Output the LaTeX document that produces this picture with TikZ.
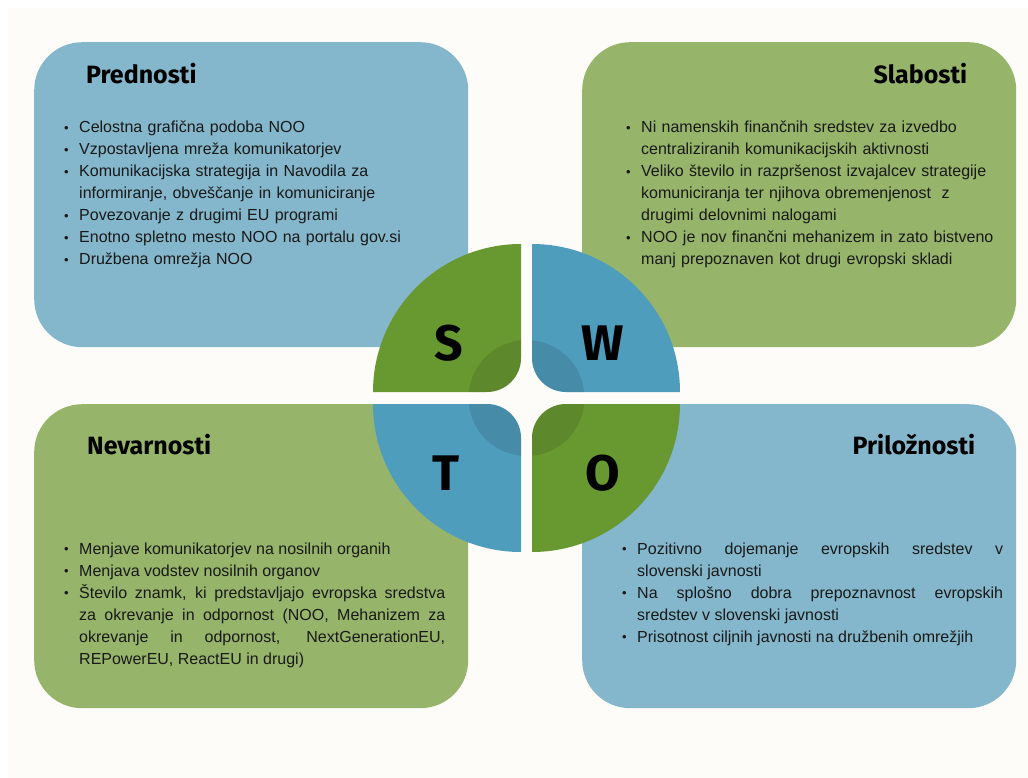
\documentclass[tikz,border=0pt]{standalone}
\usepackage{fontspec}
\setmainfont{Liberation Sans}
\newfontfamily\headfont{Fira Sans}
\usetikzlibrary{positioning}
\usepackage{xcolor}

\hyphenpenalty=10000
\exhyphenpenalty=10000

\definecolor{boxblue}{HTML}{84B7CB}
\definecolor{boxgreen}{HTML}{96B46A}
\definecolor{quadblue}{HTML}{4E9DBD}
\definecolor{quadgreen}{HTML}{689830}
\definecolor{paper}{HTML}{FDFCF8}

\tikzstyle{panel} = [rectangle, rounded corners=48pt, minimum width=434pt, minimum height=305pt, inner sep=0pt, anchor=north west]
\tikzstyle{heading} = [inner sep=0pt, font=\headfont\bfseries\fontsize{25}{30}\selectfont]
\tikzstyle{letter} = [inner sep=0pt, anchor=base, font=\headfont\bfseries\fontsize{50}{60}\selectfont]
\tikzstyle{items} = [inner sep=0pt, anchor=base west, text width=382pt, text=black!90, font=\fontsize{16}{22}\selectfont]

\newcommand{\itm}{\par\noindent\hangindent=16pt\hangafter=1\makebox[16pt][l]{\hspace{1pt}\raisebox{0.5pt}{\fontsize{13}{13}\selectfont\textbullet}}}
\newcommand{\leaf}{(-153.5,-6) -- (-39.5,-6) arc (90:0:34) -- (-5.5,-154) arc (270:180:148) -- cycle}

\begin{document}
\begin{tikzpicture}[x=1pt, y=-1pt]

\useasboundingbox (0,0) rectangle (1028,778);
\fill[white] (0,0) rectangle (1028,778);
\fill[paper] (8,8) rectangle (1028,778);

% Panels
\node (prednosti) [panel, fill=boxblue] at (34,42) {};
\node (slabosti) [panel, fill=boxgreen] at (582,42) {};
\node (nevarnosti) [panel, fill=boxgreen, minimum height=304pt] at (34,404) {};
\node (priloznosti) [panel, fill=boxblue, minimum height=304pt] at (582,404) {};

% Headings
\node (prednostiHead) [heading, anchor=base west] at ([xshift=52pt, yshift=-42pt]prednosti.north west) {Prednosti};
\node (slabostiHead) [heading, anchor=base east] at ([xshift=-49pt, yshift=-42pt]slabosti.north east) {Slabosti};
\node (nevarnostiHead) [heading, anchor=base west] at ([xshift=53pt, yshift=-50pt]nevarnosti.north west) {Nevarnosti};
\node (priloznostiHead) [heading, anchor=base east] at ([xshift=-41pt, yshift=-50pt]priloznosti.north east) {Priložnosti};

% Lists
\node (prednostiList) [items, align=left] at ([xshift=29pt, yshift=-69pt]prednosti.north west) {%
\itm Celostna grafična podoba NOO
\itm Vzpostavljena mreža komunikatorjev
\itm Komunikacijska strategija in Navodila za\newline informiranje, obveščanje in komuniciranje
\itm Povezovanje z drugimi EU programi
\itm Enotno spletno mesto NOO na portalu gov.si
\itm Družbena omrežja NOO\par};
\node (slabostiList) [items, align=left] at ([xshift=43pt, yshift=-69pt]slabosti.north west) {%
\itm Ni namenskih finančnih sredstev za izvedbo\newline centraliziranih komunikacijskih aktivnosti
\itm Veliko število in razpršenost izvajalcev strategije\newline komuniciranja ter njihova obremenjenost~ z\newline drugimi delovnimi nalogami
\itm NOO je nov finančni mehanizem in zato bistveno\newline manj prepoznaven kot drugi evropski skladi\par};
\node (nevarnostiList) [items, align=justify] at ([xshift=29pt, yshift=-128pt]nevarnosti.north west) {%
\itm Menjave komunikatorjev na nosilnih organih
\itm Menjava vodstev nosilnih organov
\itm Število znamk, ki predstavljajo evropska sredstva\linebreak za okrevanje in odpornost (NOO, Mehanizem za\linebreak okrevanje in odpornost, NextGenerationEU,\linebreak REPowerEU, ReactEU in drugi)\par};
\node (priloznostiList) [items, align=justify] at ([xshift=39pt, yshift=-128pt]priloznosti.north west) {%
\itm Pozitivno dojemanje evropskih sredstev v\linebreak slovenski javnosti
\itm Na splošno dobra prepoznavnost evropskih\linebreak sredstev v slovenski javnosti
\itm Prisotnost ciljnih javnosti na družbenih omrežjih\par};

% SWOT circle
\foreach \sx/\sy/\qcol in {1/1/quadgreen, -1/1/quadblue, 1/-1/quadblue, -1/-1/quadgreen} {
  \begin{scope}[shift={(526.5,398)}, xscale=\sx, yscale=\sy]
    \fill[\qcol] \leaf;
    \begin{scope}
      \clip \leaf;
      \fill[black, opacity=.1] (0,0) circle (58);
    \end{scope}
  \end{scope}
}

\node (sLetter) [letter] at (448.5,360) {S};
\node (wLetter) [letter] at (603,360) {W};
\node (tLetter) [letter] at (446,490) {T};
\node (oLetter) [letter] at (602.5,490) {O};

\end{tikzpicture}
\end{document}
